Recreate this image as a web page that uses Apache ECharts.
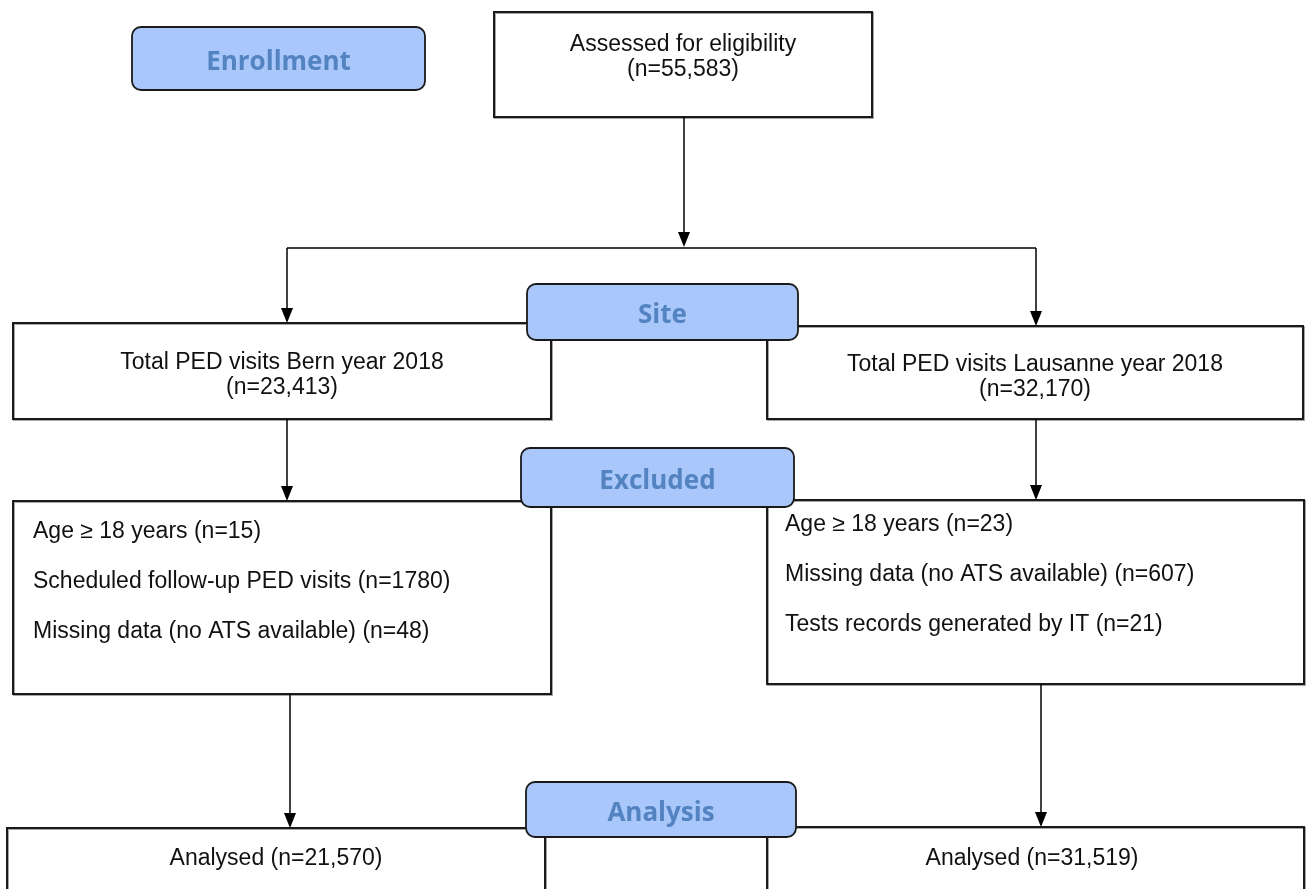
<!DOCTYPE html>
<html>
<head>
<meta charset="utf-8">
<title>Flow chart</title>
<script src="https://cdn.jsdelivr.net/npm/echarts@6/dist/echarts.min.js"></script>
<style>
  html, body { margin: 0; padding: 0; background: #fff; }
  #main { width: 1307px; height: 889px; }
</style>
</head>
<body>
<div id="main"></div>
<script>
// stage labels (blue rounded boxes)
const stageLabels = ['Enrollment', 'Site', 'Excluded', 'Analysis'];

// box texts
const assessedText = ['Assessed for eligibility', '(n=55,583)'];
const bernText = ['Total PED visits Bern year 2018', '(n=23,413)'];
const lausanneText = ['Total PED visits Lausanne year 2018', '(n=32,170)'];
const excludedBern = [
  'Age \u2265 18 years (n=15)',
  'Scheduled follow-up PED visits (n=1780)',
  'Missing data (no ATS available) (n=48)'
];
const excludedLausanne = [
  'Age \u2265 18 years (n=23)',
  'Missing data (no ATS available) (n=607)',
  'Tests records generated by IT (n=21)'
];
const analysedText = ['Analysed (n=21,570)', 'Analysed (n=31,519)'];

const chart = echarts.init(document.getElementById('main'), null, { renderer: 'canvas' });

const FONT = '23px "Liberation Sans", Arial, Helvetica, sans-serif';
const STAGE_FONT = 'bold 26px "Open Sans", "Noto Sans", sans-serif';

function box(x, y, w, h) {
  return {
    type: 'rect', z: 1,
    shape: { x: x, y: y, width: w, height: h },
    style: { fill: '#fff', stroke: '#1a1a1a', lineWidth: 2, shadowColor: 'rgba(0,0,0,0.35)', shadowOffsetX: 1, shadowOffsetY: 1 }
  };
}

function stage(label, x, y, w, h) {
  return [{
    type: 'rect', z: 10,
    shape: { x: x, y: y, width: w, height: h, r: 9 },
    style: { fill: '#a9c7fa', stroke: '#1a1a1a', lineWidth: 1.8 }
  }, {
    type: 'text', z: 11,
    x: x + w / 2, y: y + h / 2 + 4,
    style: { text: label, font: STAGE_FONT, fill: '#5383c0', textAlign: 'center', textVerticalAlign: 'middle' }
  }];
}

function txt(s, x, y, align) {
  return {
    type: 'text', z: 5, x: x, y: y,
    style: { text: s, font: FONT, fill: '#111', textAlign: align || 'center', textVerticalAlign: 'middle' }
  };
}

function arrow(x, y1, y2) {
  return [{
    type: 'line', z: 2,
    shape: { x1: x, y1: y1, x2: x, y2: y2 - 12 },
    style: { stroke: '#000', lineWidth: 1.5 }
  }, {
    type: 'polygon', z: 2,
    shape: { points: [[x - 6, y2 - 15], [x + 6, y2 - 15], [x, y2]] },
    style: { fill: '#000' }
  }];
}

function lines(arr, x, y0, step, align) {
  return arr.map(function (s, i) { return txt(s, x, y0 + i * step, align); });
}

const elements = [].concat(
  // main boxes
  box(494, 12, 378, 105),
  box(13, 323, 538, 96),
  box(767, 326, 536, 93),
  box(13, 501, 538, 193),
  box(767, 500, 537, 184),
  box(7, 828, 538, 100),
  box(767, 827, 537, 100),
  // connectors
  arrow(684, 117, 247),
  [{ type: 'line', z: 2, shape: { x1: 287, y1: 248, x2: 1036, y2: 248 }, style: { stroke: '#000', lineWidth: 1.5 } }],
  arrow(287, 248, 323),
  arrow(1036, 248, 326),
  arrow(287, 419, 501),
  arrow(1036, 419, 500),
  arrow(290, 694, 828),
  arrow(1041, 684, 827),
  // texts
  lines(assessedText, 683, 45, 25),
  lines(bernText, 282, 363, 25),
  lines(lausanneText, 1035, 365, 25),
  lines(excludedBern, 33, 532, 50, 'left'),
  lines(excludedLausanne, 785, 525, 50, 'left'),
  txt(analysedText[0], 276, 859),
  txt(analysedText[1], 1032, 859),
  // stage labels
  stage(stageLabels[0], 132, 27, 293, 63),
  stage(stageLabels[1], 527, 284, 271, 56),
  stage(stageLabels[2], 521, 448, 273, 59),
  stage(stageLabels[3], 526, 782, 270, 55)
);

chart.setOption({
  backgroundColor: '#fff',
  animation: false,
  graphic: { elements: elements }
});
</script>
</body>
</html>
